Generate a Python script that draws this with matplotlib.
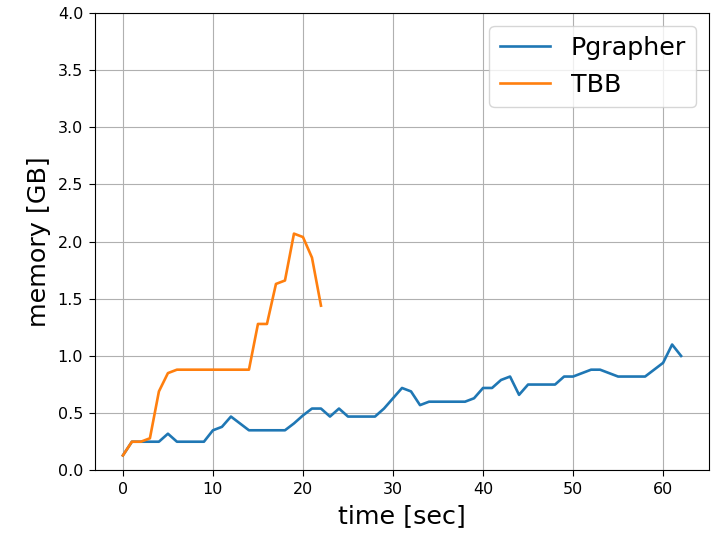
import matplotlib
matplotlib.use("Agg")
import matplotlib.pyplot as plt

# Memory usage over time (GB), sampled once per second
pgrapher_time = list(range(0, 63))
pgrapher_mem = [
    0.13, 0.25, 0.25, 0.25, 0.25, 0.32, 0.25, 0.25, 0.25, 0.25,
    0.35, 0.38, 0.47, 0.41, 0.35, 0.35, 0.35, 0.35, 0.35, 0.41,
    0.48, 0.54, 0.54, 0.47, 0.54, 0.47, 0.47, 0.47, 0.47, 0.54,
    0.63, 0.72, 0.69, 0.57, 0.60, 0.60, 0.60, 0.60, 0.60, 0.63,
    0.72, 0.72, 0.79, 0.82, 0.66, 0.75, 0.75, 0.75, 0.75, 0.82,
    0.82, 0.85, 0.88, 0.88, 0.85, 0.82, 0.82, 0.82, 0.82, 0.88,
    0.94, 1.10, 1.00,
]

tbb_time = list(range(0, 23))
tbb_mem = [
    0.13, 0.25, 0.25, 0.28, 0.69, 0.85, 0.88, 0.88, 0.88, 0.88,
    0.88, 0.88, 0.88, 0.88, 0.88, 1.28, 1.28, 1.63, 1.66, 2.07,
    2.04, 1.86, 1.44,
]

fig = plt.figure(figsize=(7.18, 5.34), dpi=100)
ax = fig.add_axes([0.1323, 0.1193, 0.8552, 0.8564])

ax.plot(pgrapher_time, pgrapher_mem, label="Pgrapher", linewidth=1.9)
ax.plot(tbb_time, tbb_mem, label="TBB", linewidth=1.9)

ax.set_ylim(0, 4.0)
ax.set_xlabel("time [sec]", fontsize=18.3, labelpad=5)
ax.set_ylabel("memory [GB]", fontsize=18.3, labelpad=5)
ax.tick_params(labelsize=11.5, length=4.5, pad=4)
ax.grid(True)
ax.legend(loc="upper right", fontsize=18.3)

fig.savefig("out.png", dpi=100)
